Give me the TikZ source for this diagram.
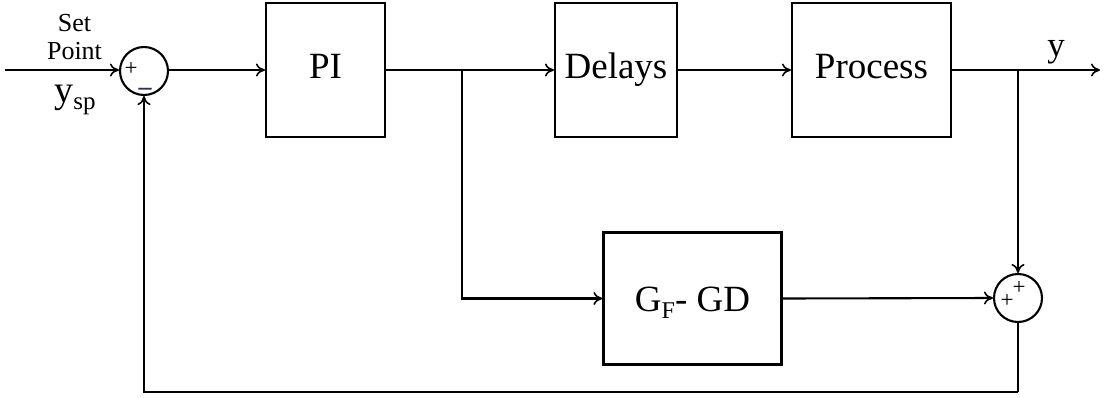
\documentclass[tikz,border=0pt]{standalone}
\usepackage{fontspec}
\setmainfont{Liberation Serif}
\usetikzlibrary{arrows.meta,positioning,calc}

\definecolor{signblue}{RGB}{40,50,80}

\tikzset{
    block/.style={draw, line width=2.1pt, minimum height=134pt, inner sep=0pt,
        text height=16pt, text depth=0pt, font=\fontsize{37}{40}\selectfont},
    sumnode/.style={draw, circle, line width=2.1pt, minimum size=48pt, inner sep=0pt},
    sign/.style={inner sep=0pt, font=\fontsize{23}{25}\selectfont},
    wire/.style={line width=2.1pt, -{To[length=9pt,width=13pt,line width=1.6pt]}},
    plain/.style={line width=2.1pt}
}

\begin{document}
\begin{tikzpicture}[x=1pt,y=-1pt]
    \useasboundingbox (0,0) rectangle (1104,397);

    % forward path blocks
    \node[block, minimum width=119pt] (pi) at (325.5,70) {PI};
    \node[block, minimum width=122pt] (dl) at (616,70) {Delays};
    \node[block, minimum width=159pt] (pr) at (871.5,70) {Process};
    \node[block, minimum width=178pt, minimum height=132pt, text height=25pt] (gf)
        at (692.5,298.5)
        {G\raisebox{-0.45ex}{\fontsize{24}{26}\selectfont F}- GD};

    % summing junctions
    \node[sumnode] (s1) at (144,71) {};
    \node[sign] (s1p) at (131,69) {+};
    \node[sign, text=signblue, font=\fontsize{26}{28}\selectfont\bfseries] (s1m)
        at (145,88) {\_};
    \node[sumnode] (s2) at (1018,298) {};
    \node[sign] (s2a) at (1007,301) {+};
    \node[sign] (s2b) at (1019,288) {+};

    % labels
    \node[font=\fontsize{26}{28}\selectfont] (set) at (74.5,23) {Set};
    \node[font=\fontsize{26}{28}\selectfont] (pt) at (74.5,51) {Point};
    \node[font=\fontsize{38}{40}\selectfont] (ysp) at (75,100)
        {y\raisebox{-0.4ex}{\fontsize{25}{27}\selectfont sp}};
    \node[font=\fontsize{35}{37}\selectfont] (y) at (1056,52) {y};

    % helper points
    \coordinate (in) at (5,70);
    \coordinate (out) at (1100,70);
    \coordinate (b1) at (462,70);
    \coordinate (b2) at (1018,70);
    \coordinate (fb) at (1018,392);

    % connections
    \draw[wire] (in) -- (in -| s1.west);
    \draw[wire] (s1.east |- pi.west) -- (pi.west);
    \draw[wire] (pi.east) -- (dl.west);
    \draw[wire] (dl.east) -- (pr.west);
    \draw[wire] (pr.east) -- (out);
    \draw[wire] (b1) |- (gf.west);
    \draw[wire] (b2) -- (s2.north);
    \draw[wire] (gf.east) -- (s2.west);
    \draw[plain] (s2.south) -- (fb);
    \draw[wire] (fb) -| (s1.south);
\end{tikzpicture}
\end{document}
